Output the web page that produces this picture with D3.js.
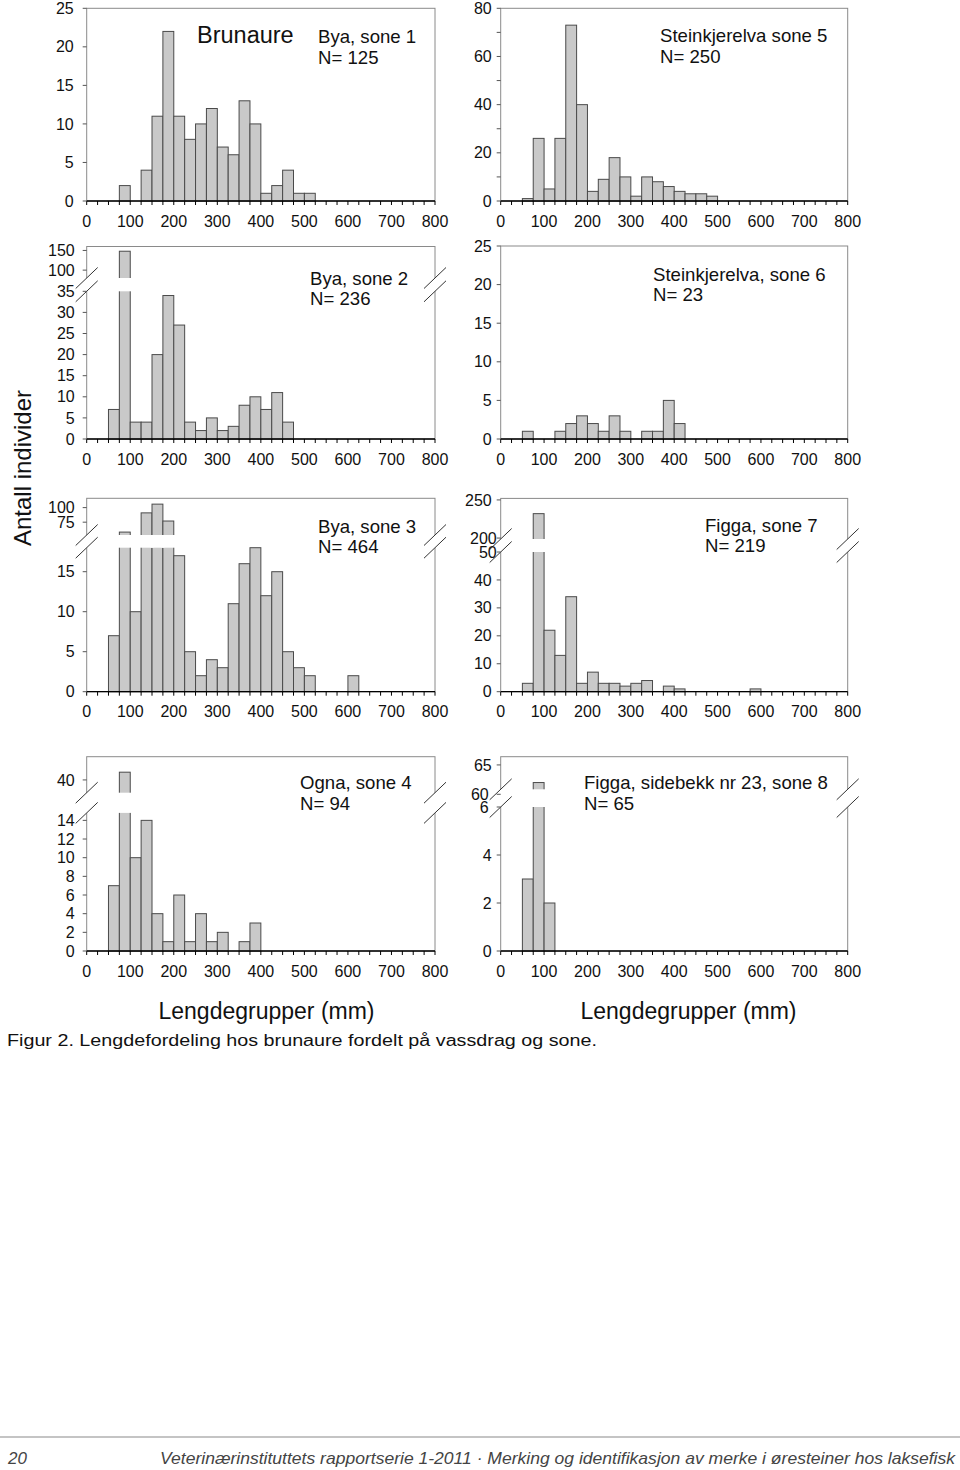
<!DOCTYPE html>
<html><head><meta charset="utf-8">
<script src="https://cdn.jsdelivr.net/npm/d3@7/dist/d3.min.js"></script>
<style>
body{margin:0;background:#fff}
svg{display:block}
text{font-family:"Liberation Sans",Arial,sans-serif;fill:#111}
</style>
</head><body>
<svg id="c" width="960" height="1470"></svg>
<script>
// ---------- DATA ----------
const binStarts = [0,25,50,75,100,125,150,175,200,225,250,275,300,325,350,375,400,425,450,475,500,525,550,575,600,625,650,675,700,725,750,775];
const binWidth = 25;
const xTickValues = [0,100,200,300,400,500,600,700,800];

const byaSone1   = [0,0,0,2,0,4,11,22,11,8,10,12,7,6,13,10,1,2,4,1,1,0,0,0,0,0,0,0,0,0,0,0];
const steinSone5 = [0,0,1,26,5,26,73,40,4,9,18,10,2,10,8,6,4,3,3,2,0,0,0,0,0,0,0,0,0,0,0,0];
const byaSone2   = [0,0,7,148,4,4,20,34,27,4,2,5,2,3,8,10,7,11,4,0,0,0,0,0,0,0,0,0,0,0,0,0];
const steinSone6 = [0,0,1,0,0,1,2,3,2,1,3,1,0,1,1,5,2,0,0,0,0,0,0,0,0,0,0,0,0,0,0,0];
const byaSone3   = [0,0,7,58,10,91,106,77,17,5,2,4,3,11,16,18,12,15,5,3,2,0,0,0,2,0,0,0,0,0,0,0];
const figgaSone7 = [0,0,3,232,22,13,34,3,7,3,3,2,3,4,0,2,1,0,0,0,0,0,0,1,0,0,0,0,0,0,0,0];
const ognaSone4  = [0,0,7,42,10,14,4,1,6,1,4,1,2,0,1,3,0,0,0,0,0,0,0,0,0,0,0,0,0,0,0,0];
const figgaSone8 = [0,0,3,62,2,0,0,0,0,0,0,0,0,0,0,0,0,0,0,0,0,0,0,0,0,0,0,0,0,0,0,0];

const titleLines = {
  p1: ["Bya, sone 1", "N= 125"],
  p2: ["Steinkjerelva sone 5", "N= 250"],
  p3: ["Bya, sone 2", "N= 236"],
  p4: ["Steinkjerelva, sone 6", "N= 23"],
  p5: ["Bya, sone 3", "N= 464"],
  p6: ["Figga, sone 7", "N= 219"],
  p7: ["Ogna, sone 4", "N= 94"],
  p8: ["Figga, sidebekk nr 23, sone 8", "N= 65"]
};
const lowTicks = {
  p1: [0,5,10,15,20,25], p2: [0,20,40,60,80], p3: [0,5,10,15,20,25,30,35],
  p4: [0,5,10,15,20,25], p5: [0,5,10,15], p6: [0,10,20,30,40,50],
  p7: [0,2,4,6,8,10,12,14], p8: [0,2,4,6]
};
const minorTicks = { p2: [10,30,50,70] };
const upTicks = { p3: [100,150], p5: [75,100], p6: [200,250], p7: [40], p8: [60,65] };

const speciesLabel = "Brunaure";
const yAxisTitle = "Antall individer";
const xAxisTitle = "Lengdegrupper (mm)";
const caption = "Figur 2. Lengdefordeling hos brunaure fordelt på vassdrag og sone.";
const pageNumber = "20";
const footerText = "Veterinærinstituttets rapportserie 1-2011 · Merking og identifikasjon av merke i øresteiner hos laksefisk";

// ---------- LAYOUT ----------
const L = [86.7, 435], R = [500.7, 847.7];
const panels = [
  {id:"p1", vals:byaSone1,   xr:L, low:{d:[0,25],r:[201,8.3]},     tx:318, ty:43, lbl:13},
  {id:"p2", vals:steinSone5, xr:R, low:{d:[0,80],r:[201,8.3]},     tx:660, ty:42, lbl:9},
  {id:"p3", vals:byaSone2,   xr:L, low:{d:[0,35],r:[439,291.3]},   up:{d:[80,160],r:[278,246.5]},      tx:310, ty:284.5, lbl:12},
  {id:"p4", vals:steinSone6, xr:R, low:{d:[0,25],r:[439,246]},     tx:653, ty:280.5, lbl:9},
  {id:"p5", vals:byaSone3,   xr:L, low:{d:[0,18],r:[691.7,547.7]}, up:{d:[53,116],r:[535,498.3]},      tx:318, ty:532.5, lbl:12},
  {id:"p6", vals:figgaSone7, xr:R, low:{d:[0,50],r:[691.7,552]},   up:{d:[198.75,252],r:[539,498.4]},  tx:705, ty:531.5, lbl:9, shift:{200:5,50:5}},
  {id:"p7", vals:ognaSone4,  xr:L, low:{d:[0,14.8],r:[951,812.9]}, up:{d:[36.7,46],r:[792.7,756.7]},   tx:300, ty:789, lbl:12},
  {id:"p8", vals:figgaSone8, xr:R, low:{d:[0,6],r:[951,807]},      up:{d:[60.85,66.4],r:[789.3,756.7]},tx:584, ty:789, lbl:9, shift:{60:-3,6:-3}}
];

const svg = d3.select("#c");
const BAR_FILL = "#c9c9c9", BAR_STROKE = "#4a4a4a", BOX = "#8a8a8a";
const TICK_FS = 16;

panels.forEach(p => {
  const g = svg.append("g");
  const x = d3.scaleLinear().domain([0,800]).range(p.xr);
  const yl = d3.scaleLinear().domain(p.low.d).range(p.low.r);
  const yu = p.up ? d3.scaleLinear().domain(p.up.d).range(p.up.r) : null;
  const base = p.low.r[0];
  const top = p.up ? p.up.r[1] : p.low.r[1];
  const lowMax = p.low.d[1];
  const yv = v => (yu && v > lowMax) ? yu(v) : yl(v);

  // box
  g.append("rect").attr("x", p.xr[0]).attr("y", top).attr("width", p.xr[1]-p.xr[0]).attr("height", base-top)
    .attr("fill","none").attr("stroke",BOX).attr("stroke-width",1);

  // bars
  const data = binStarts.map((s,i)=>({s, v:p.vals[i]})).filter(d=>d.v>0);
  g.selectAll("rect.bar").data(data).join("rect").attr("class","bar")
    .attr("x", d=>x(d.s)).attr("width", d=>x(d.s+binWidth)-x(d.s))
    .attr("y", d=>yv(d.v)).attr("height", d=>base-yv(d.v))
    .attr("fill",BAR_FILL).attr("stroke",BAR_STROKE).attr("stroke-width",1);

  // break gap in tall bars
  if (yu) {
    const gapTop = p.up.r[0], gapBot = p.low.r[1];
    g.selectAll("rect.gap").data(data.filter(d=>d.v>lowMax)).join("rect").attr("class","gap")
      .attr("x", d=>x(d.s)-1.5).attr("width", d=>x(d.s+binWidth)-x(d.s)+3)
      .attr("y", gapTop).attr("height", gapBot-gapTop).attr("fill","#fff");
    [p.xr[0], p.xr[1]].forEach(ax => {
      g.append("polygon").attr("points", [
        [ax-11, gapTop+10.5],[ax+11, gapTop-10.5],[ax+11, gapBot-10.5],[ax-11, gapBot+10.5]
      ].map(a=>a.join(",")).join(" ")).attr("fill","#fff");
      [gapTop, gapBot].forEach(yy => {
        g.append("line").attr("x1",ax-11).attr("y1",yy+10.5).attr("x2",ax+11).attr("y2",yy-10.5)
          .attr("stroke","#333").attr("stroke-width",1);
      });
    });
  }

  // x axis line + ticks
  g.append("line").attr("x1",p.xr[0]).attr("x2",p.xr[1]).attr("y1",base).attr("y2",base)
    .attr("stroke","#000").attr("stroke-width",1.3);
  g.selectAll("line.xt").data(binStarts.concat([800])).join("line").attr("class","xt")
    .attr("x1",d=>x(d)).attr("x2",d=>x(d)).attr("y1",base).attr("y2",base+4)
    .attr("stroke","#000").attr("stroke-width",1);
  g.selectAll("text.xl").data(xTickValues).join("text").attr("class","xl")
    .attr("x",d=>x(d)).attr("y",base+25.5).attr("text-anchor","middle").attr("font-size",TICK_FS).text(d=>d);

  // y ticks
  const ax = p.xr[0];
  const yt = lowTicks[p.id].map(v=>({v, y:yl(v)}))
    .concat((upTicks[p.id]||[]).map(v=>({v, y:yu(v)})));
  g.selectAll("line.yt").data(yt.concat((minorTicks[p.id]||[]).map(v=>({v,y:yl(v)})))).join("line").attr("class","yt")
    .attr("x1",ax-4).attr("x2",ax).attr("y1",d=>d.y).attr("y2",d=>d.y).attr("stroke","#555");
  const sh = p.shift || {};
  g.selectAll("text.yl").data(yt).join("text").attr("class","yl")
    .attr("x",d=>ax-p.lbl+(sh[d.v]||0)).attr("y",d=>d.y+5.6).attr("text-anchor","end").attr("font-size",TICK_FS).text(d=>d.v);

  // panel titles
  titleLines[p.id].forEach((t,i)=>{
    g.append("text").attr("x",p.tx).attr("y",p.ty+i*20.5).attr("font-size",18.6).text(t);
  });
});

svg.append("text").attr("x",197).attr("y",43).attr("font-size",23.5).text(speciesLabel);

svg.append("text").attr("transform","translate(30.6,468) rotate(-90)").attr("text-anchor","middle")
  .attr("font-size",24).text(yAxisTitle);

[266.5, 688.5].forEach(cx=>{
  svg.append("text").attr("x",cx).attr("y",1019).attr("text-anchor","middle").attr("font-size",23).text(xAxisTitle);
});

svg.append("text").attr("x",7).attr("y",1046).attr("font-size",16).attr("textLength",590)
  .attr("lengthAdjust","spacingAndGlyphs").text(caption);

svg.append("line").attr("x1",0).attr("x2",960).attr("y1",1437).attr("y2",1437).attr("stroke","#c4c4c4").attr("stroke-width",2);
svg.append("text").attr("x",8).attr("y",1464).attr("font-size",17).attr("font-style","italic")
  .style("fill","#444").attr("font-family","'Open Sans',sans-serif").text(pageNumber);
svg.append("text").attr("x",160).attr("y",1464).attr("font-size",17).attr("font-style","italic")
  .style("fill","#444").attr("font-family","'Open Sans',sans-serif")
  .attr("textLength",795).attr("lengthAdjust","spacingAndGlyphs").text(footerText);
</script>
</body></html>
